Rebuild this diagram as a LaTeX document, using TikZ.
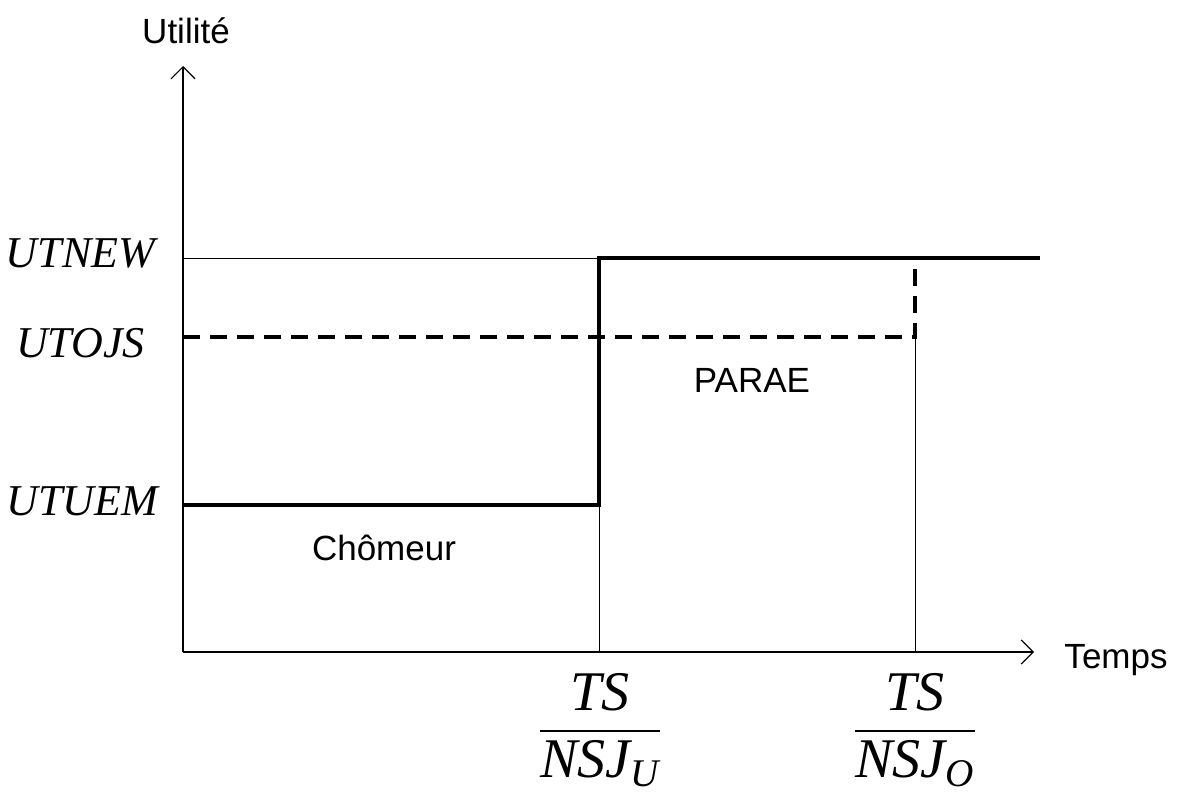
\documentclass[tikz,border=0pt]{standalone}
\usepackage{amsmath}
\usepackage{fontspec}
\setmainfont{Liberation Serif}
\setsansfont{Liberation Sans}
\usetikzlibrary{arrows.meta}

\tikzset{
  axis/.style={line width=0.6pt,-{Straight Barb[length=6pt,width=12pt]}},
  guide/.style={line width=0.5pt},
  step path/.style={line width=2pt},
  dash path/.style={line width=2pt,dash pattern=on 8.5pt off 5pt},
  axlabel/.style={font=\sffamily\fontsize{17.5}{20}\selectfont},
  levlabel/.style={font=\itshape\fontsize{22}{26}\selectfont,anchor=east},
}

\begin{document}
\begin{tikzpicture}[x=0.5pt,y=-0.5pt]
 \useasboundingbox (0,0) rectangle (1179,797);
  % axes
  \coordinate (O) at (183,652);
  \coordinate (ytop) at (183,66);
  \coordinate (xend) at (1034,652);
  \draw[axis] (O) -- (ytop);
  \draw[axis] (O) -- (xend);
  \node (uti)[axlabel] at (186,31) {Utilit\'e};
  \node (tmp)[axlabel] at (1116,660) {Temps};

  % thin guides
  \draw[guide] (183,258) -- (599,258);
  \draw[guide] (599,505) -- (599,652);
  \draw[guide] (915,337) -- (915,652);

  % chomeur -> new job
  \draw[step path] (183,505) -- (599,505) -- (599,258) -- (1040,258);
  % other job seeker
  \draw[dash path] (183,337) -- (915,337) -- (915,260);

  \node (new)[levlabel] at (162,253) {UTNEW};
  \node (ojs)[levlabel] at (152,343) {UTOJS};
  \node (uem)[levlabel] at (165,501) {UTUEM};

  \node (cho)[axlabel] at (384,548) {Ch\^omeur};
  \node (par)[axlabel] at (752,380) {PARAE};

  \node (tsu) at (600,730) {\fontsize{28}{34}\selectfont
    $\dfrac{\textit{TS}}{\textit{NSJ}_{\textit{U}}}$};
  \node (tso) at (915,730) {\fontsize{28}{34}\selectfont
    $\dfrac{\textit{TS}}{\textit{NSJ}_{\textit{O}}}$};

\end{tikzpicture}
\end{document}
